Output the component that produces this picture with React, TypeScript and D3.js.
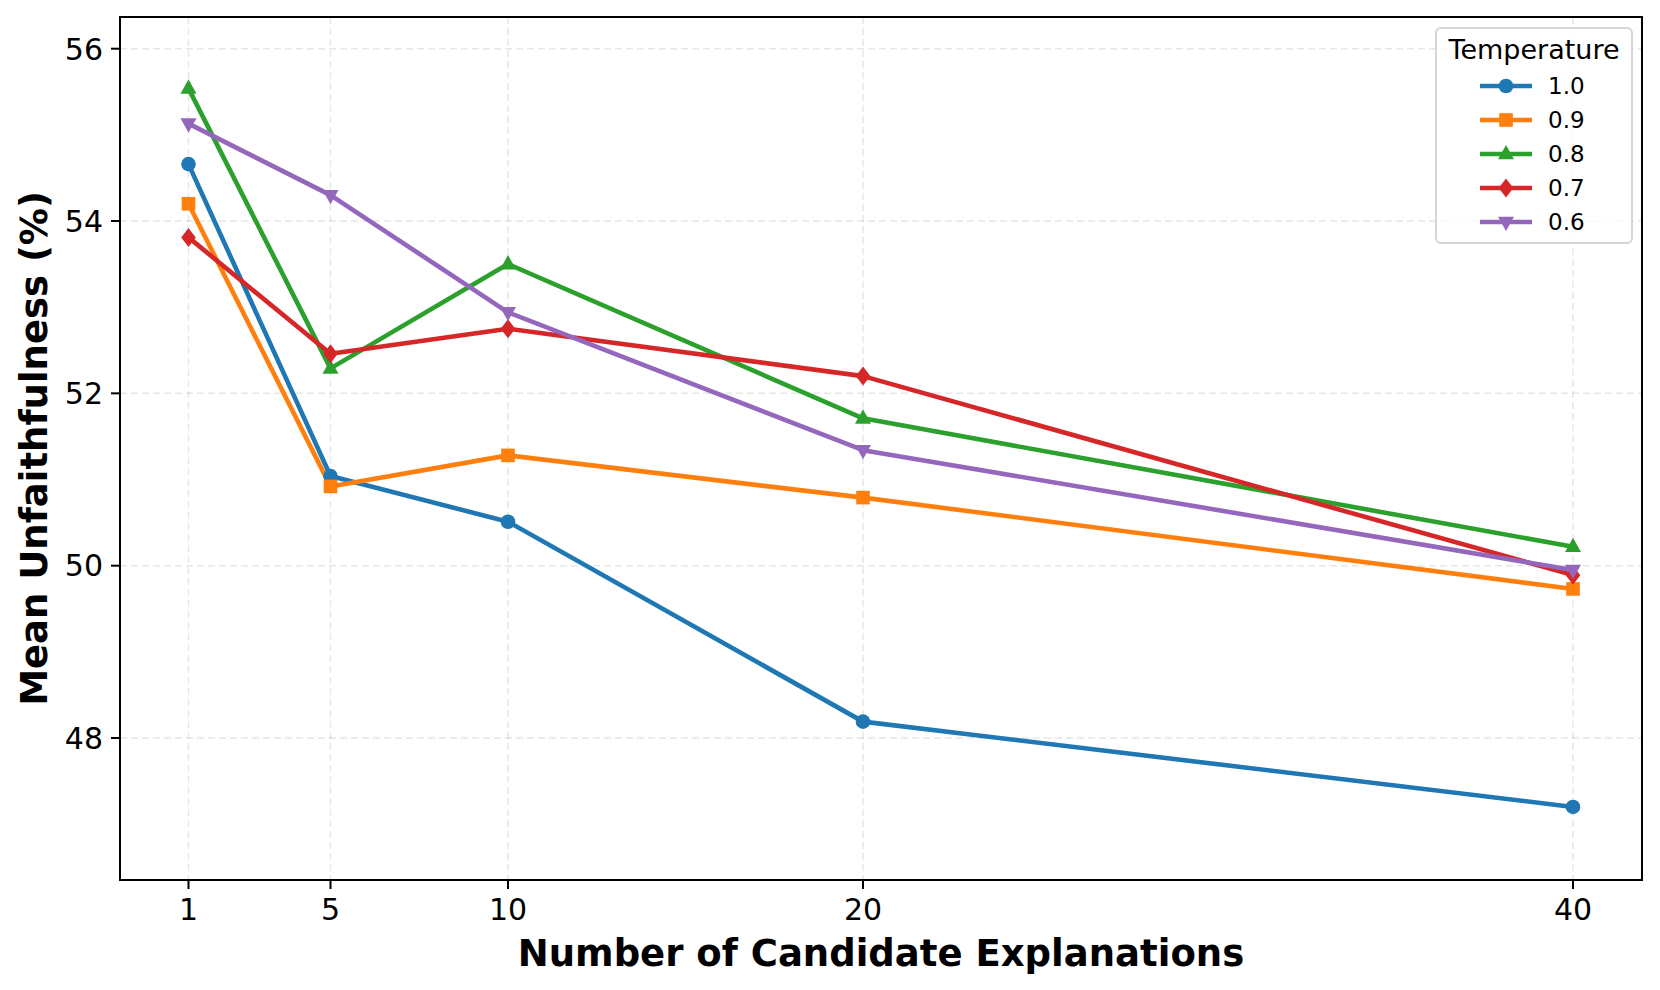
import { useMemo } from "react";
import * as d3 from "d3";

const candidates = [1, 5, 10, 20, 40];
const temperatures = ["1.0", "0.9", "0.8", "0.7", "0.6"];
const temp10 = [54.66, 51.04, 50.51, 48.19, 47.2];
const temp09 = [54.2, 50.92, 51.28, 50.79, 49.73];
const temp08 = [55.54, 52.29, 53.5, 51.71, 50.22];
const temp07 = [53.81, 52.46, 52.75, 52.2, 49.89];
const temp06 = [55.13, 54.3, 52.94, 51.34, 49.95];
const yTicks = [48, 50, 52, 54, 56];

const colors = ["#1f77b4", "#ff7f0e", "#2ca02c", "#d62728", "#9467bd"];
const symbols = ["circle", "square", "triangle", "diamond", "triangleDown"];

const W = 1660;
const H = 990;
const margin = { left: 120, right: 18, top: 17, bottom: 110 };

function Marker({ kind, x, y, color }: { kind: string; x: number; y: number; color: string }) {
  const r = 7.3;
  if (kind === "circle") return <circle cx={x} cy={y} r={r} fill={color} />;
  if (kind === "square") return <rect x={x - 6.8} y={y - 6.8} width={13.6} height={13.6} fill={color} />;
  if (kind === "triangle")
    return <path d={`M${x},${y - 9} L${x + 8},${y + 5.3} L${x - 8},${y + 5.3} Z`} fill={color} />;
  if (kind === "triangleDown")
    return <path d={`M${x},${y + 9} L${x + 8},${y - 5.3} L${x - 8},${y - 5.3} Z`} fill={color} />;
  return <path d={`M${x},${y - 9.5} L${x + 7.3},${y} L${x},${y + 9.5} L${x - 7.3},${y} Z`} fill={color} />;
}

export default function App() {
  const series = [temp10, temp09, temp08, temp07, temp06];
  const x = useMemo(
    () => d3.scaleLinear().domain([1, 40]).range([188.5, 1573]),
    []
  );
  const y = useMemo(
    () => d3.scaleLinear().domain([48, 56]).range([738, 48.7]),
    []
  );
  const line = d3
    .line<number>()
    .x((_, i) => x(candidates[i]))
    .y((d) => y(d));

  const left = margin.left;
  const right = W - margin.right;
  const top = margin.top;
  const bottom = H - margin.bottom;
  const font = "DejaVu Sans, sans-serif";

  return (
    <svg width={W} height={H} style={{ position: "absolute", left: 0, top: 0, fontFamily: font }}>
      <rect width={W} height={H} fill="#fff" />
      {/* grid */}
      {candidates.map((c) => (
        <line key={"gx" + c} x1={x(c)} x2={x(c)} y1={top} y2={bottom} stroke="#b0b0b0" strokeOpacity={0.3} strokeWidth={1.5} strokeDasharray="7,4" />
      ))}
      {yTicks.map((t) => (
        <line key={"gy" + t} x1={left} x2={right} y1={y(t)} y2={y(t)} stroke="#b0b0b0" strokeOpacity={0.3} strokeWidth={1.5} strokeDasharray="7,4" />
      ))}
      {/* lines */}
      {series.map((s, i) => (
        <path key={"l" + i} d={line(s) || ""} fill="none" stroke={colors[i]} strokeWidth={4.6} strokeLinejoin="round" />
      ))}
      {series.map((s, i) =>
        s.map((v, j) => (
          <Marker key={"m" + i + "-" + j} kind={symbols[i]} x={x(candidates[j])} y={y(v)} color={colors[i]} />
        ))
      )}
      {/* frame */}
      <rect x={left} y={top} width={right - left} height={bottom - top} fill="none" stroke="#000" strokeWidth={2} />
      {/* x ticks */}
      {candidates.map((c) => (
        <g key={"xt" + c}>
          <line x1={x(c)} x2={x(c)} y1={bottom} y2={bottom + 9} stroke="#000" strokeWidth={2} />
          <text x={x(c)} y={bottom + 40} textAnchor="middle" fontSize={30}>
            {c}
          </text>
        </g>
      ))}
      {yTicks.map((t) => (
        <g key={"yt" + t}>
          <line x1={left - 9} x2={left} y1={y(t)} y2={y(t)} stroke="#000" strokeWidth={2} />
          <text x={left - 17} y={y(t)} dy="0.36em" textAnchor="end" fontSize={30}>
            {t}
          </text>
        </g>
      ))}
      <text x={(left + right) / 2} y={966} textAnchor="middle" fontSize={37} fontWeight="bold">
        Number of Candidate Explanations
      </text>
      <text
        transform={`translate(47,${(top + bottom) / 2}) rotate(-90)`}
        textAnchor="middle"
        fontSize={37}
        fontWeight="bold"
      >
        Mean Unfaithfulness (%)
      </text>
      {/* legend */}
      <rect x={1436} y={28} width={196} height={215} rx={5} fill="#fff" fillOpacity={0.8} stroke="#d6d6d6" strokeWidth={2} />
      <text x={1534} y={59} textAnchor="middle" fontSize={27}>
        Temperature
      </text>
      {temperatures.map((t, i) => {
        const ly = 86 + i * 34;
        return (
          <g key={"lg" + t}>
            <line x1={1480} x2={1532} y1={ly} y2={ly} stroke={colors[i]} strokeWidth={4.6} />
            <Marker kind={symbols[i]} x={1506} y={ly} color={colors[i]} />
            <text x={1548} y={ly} dy="0.36em" fontSize={23}>
              {t}
            </text>
          </g>
        );
      })}
    </svg>
  );
}
